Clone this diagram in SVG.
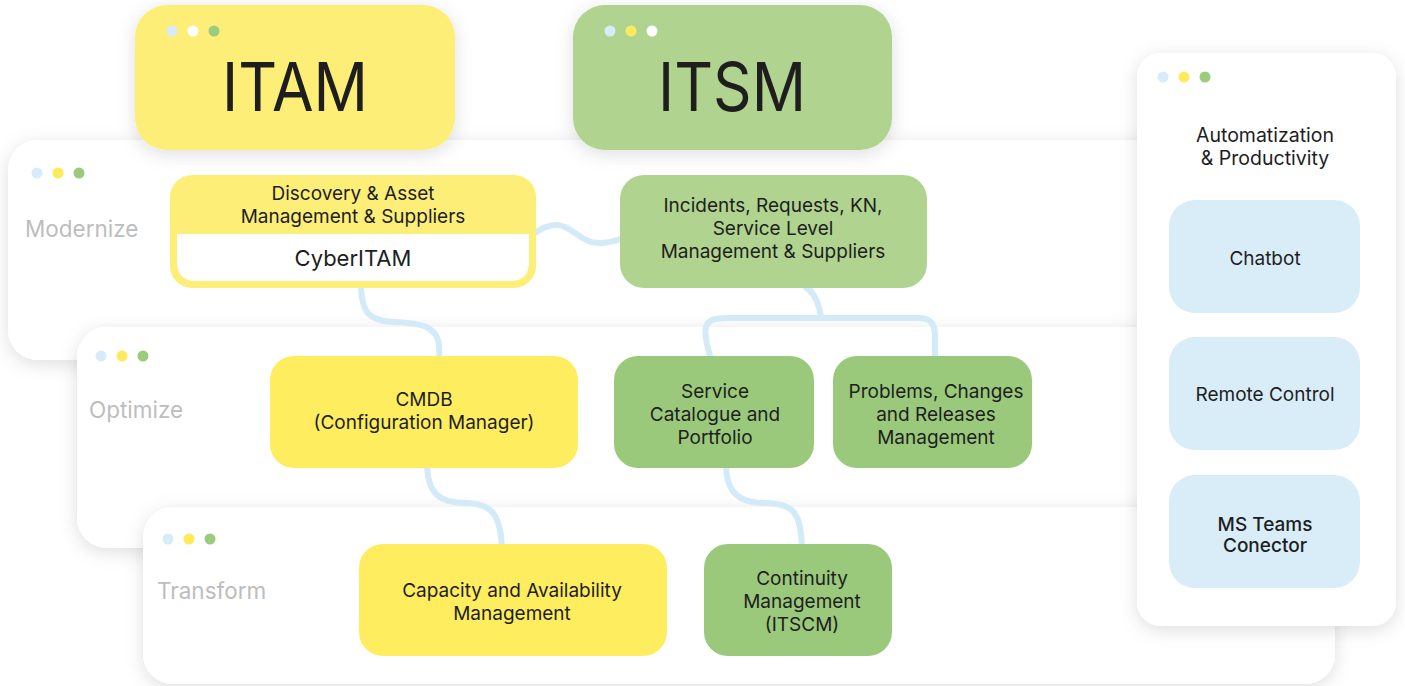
<svg xmlns="http://www.w3.org/2000/svg" width="1405" height="686" viewBox="0 0 1405 686">
  <style>
    .panel { fill: #ffffff; filter: url(#shadow); }
    .stage { font-family: Inter, "Open Sans", sans-serif; font-size: 22.5px; fill: #bdbdbd; }
    .txt { font-family: Inter, "Open Sans", sans-serif; font-size: 19px; fill: #1e1e1e; text-anchor: middle; }
    .big { font-family: Inter, "Open Sans", sans-serif; font-size: 68px; fill: #1e1e1e; text-anchor: middle; }
    .yl { fill: #feed5f; }
    .yl2 { fill: #fdee78; }
    .gr { fill: #9bc97b; }
    .gr2 { fill: #b0d48f; }
    .bl { fill: #d9edf9; }
    .dot-b { fill: #d6ecf9; }
    .dot-y { fill: #fdeb5b; }
    .dot-g { fill: #9bcb7c; }
    .dot-w { fill: #ffffff; }
    .link { fill: none; stroke: #d3eaf8; stroke-width: 6; stroke-linecap: round; stroke-linejoin: round; }
  </style>
  <defs>
    <filter id="shadow" x="-10%" y="-20%" width="120%" height="150%">
      <feDropShadow dx="0" dy="4" stdDeviation="9" flood-color="#000000" flood-opacity="0.13"/>
    </filter>
  </defs>

  <rect width="1405" height="686" fill="#ffffff"/>

  <!-- Stage panels -->
  <g id="panel-modernize">
    <rect class="panel" x="8" y="140" width="1200" height="220" rx="30"/>
    <circle class="dot-b" cx="37" cy="173" r="5.5"/>
    <circle class="dot-y" cx="58" cy="173" r="5.5"/>
    <circle class="dot-g" cx="79" cy="173" r="5.5"/>
    <text class="stage" x="25" y="237">Modernize</text>
  </g>

  <g id="panel-optimize">
    <rect class="panel" x="77" y="327" width="1130" height="221" rx="30"/>
    <circle class="dot-b" cx="101" cy="356" r="5.5"/>
    <circle class="dot-y" cx="122" cy="356" r="5.5"/>
    <circle class="dot-g" cx="143" cy="356" r="5.5"/>
    <text class="stage" x="89" y="418">Optimize</text>
  </g>

  <g id="panel-transform">
    <rect class="panel" x="143" y="507" width="1192" height="177" rx="30"/>
    <circle class="dot-b" cx="168" cy="539" r="5.5"/>
    <circle class="dot-y" cx="189" cy="539" r="5.5"/>
    <circle class="dot-g" cx="210" cy="539" r="5.5"/>
    <text class="stage" x="157" y="599">Transform</text>
  </g>

  <!-- Header tabs -->
  <g id="tab-itam">
    <rect class="yl2" x="135" y="5" width="320" height="145" rx="32" filter="url(#shadow)"/>
    <circle class="dot-b" cx="172" cy="31" r="5.5"/>
    <circle class="dot-w" cx="193" cy="31" r="5.5"/>
    <circle class="dot-g" cx="214" cy="31" r="5.5"/>
    <text class="big" x="295" y="111" textLength="146" lengthAdjust="spacingAndGlyphs">ITAM</text>
  </g>

  <g id="tab-itsm">
    <rect class="gr2" x="573" y="5" width="319" height="145" rx="32" filter="url(#shadow)"/>
    <circle class="dot-b" cx="610" cy="31" r="5.5"/>
    <circle class="dot-y" cx="631" cy="31" r="5.5"/>
    <circle class="dot-w" cx="652" cy="31" r="5.5"/>
    <text class="big" x="732" y="111" textLength="148" lengthAdjust="spacingAndGlyphs">ITSM</text>
  </g>

  <!-- Connectors -->
  <g id="connectors">
    <path class="link" d="M527,238 C540,229 549,224 558,225 C574,227 582,244 600,243 C612,243 620,239 628,236"/>
    <path class="link" d="M361,283 C361,312 368,321 395,322 C420,323 437,326 439,345 L440,372"/>
    <path class="link" d="M427,462 C427,492 438,503 465,503 C492,503 501,515 502,550"/>
    <path class="link" d="M773,281 C805,278 818,292 821,318"/>
    <path class="link" d="M712,362 C707,347 704,335 706,327 C708,320 714,318 728,318 L918,318 C930,318 935,323 935,336 L935,359"/>
    <path class="link" d="M726,463 C726,492 738,503 765,503 C795,503 802,515 802,552"/>
  </g>

  <!-- Modernize nodes -->
  <g id="node-discovery">
    <rect class="yl2" x="170" y="175" width="366" height="113" rx="22"/>
    <path fill="#ffffff" d="M177,234 H529 V262 Q529,281 510,281 H196 Q177,281 177,262 Z"/>
    <text class="txt" x="353" y="200">Discovery &amp; Asset</text>
    <text class="txt" x="353" y="223">Management &amp; Suppliers</text>
    <text class="txt" x="353" y="266" style="font-size:22px">CyberITAM</text>
  </g>

  <g id="node-incidents">
    <rect class="gr2" x="620" y="175" width="307" height="113" rx="24"/>
    <text class="txt" x="773" y="212">Incidents, Requests, KN,</text>
    <text class="txt" x="773" y="235">Service Level</text>
    <text class="txt" x="773" y="258">Management &amp; Suppliers</text>
  </g>

  <!-- Optimize nodes -->
  <g id="node-cmdb">
    <rect class="yl" x="270" y="356" width="308" height="112" rx="24"/>
    <text class="txt" x="424" y="406">CMDB</text>
    <text class="txt" x="424" y="429">(Configuration Manager)</text>
  </g>

  <g id="node-service-catalogue">
    <rect class="gr" x="614" y="356" width="200" height="112" rx="24"/>
    <text class="txt" x="715" y="398">Service</text>
    <text class="txt" x="715" y="421">Catalogue and</text>
    <text class="txt" x="715" y="444">Portfolio</text>
  </g>

  <g id="node-problems">
    <rect class="gr" x="833" y="356" width="199" height="112" rx="24"/>
    <text class="txt" x="936" y="398">Problems, Changes</text>
    <text class="txt" x="936" y="421">and Releases</text>
    <text class="txt" x="936" y="444">Management</text>
  </g>

  <!-- Transform nodes -->
  <g id="node-capacity">
    <rect class="yl" x="359" y="544" width="308" height="112" rx="24"/>
    <text class="txt" x="512" y="597">Capacity and Availability</text>
    <text class="txt" x="512" y="620">Management</text>
  </g>

  <g id="node-continuity">
    <rect class="gr" x="704" y="544" width="188" height="112" rx="24"/>
    <text class="txt" x="802" y="585">Continuity</text>
    <text class="txt" x="802" y="608">Management</text>
    <text class="txt" x="802" y="631">(ITSCM)</text>
  </g>

  <!-- Automation side panel -->
  <g id="panel-automation">
    <rect class="panel" x="1137" y="53" width="259" height="573" rx="24"/>
    <circle class="dot-b" cx="1163" cy="77" r="5.5"/>
    <circle class="dot-y" cx="1184" cy="77" r="5.5"/>
    <circle class="dot-g" cx="1205" cy="77" r="5.5"/>
    <text class="txt" x="1265" y="142" style="font-size:19.5px">Automatization</text>
    <text class="txt" x="1265" y="165" style="font-size:19.5px">&amp; Productivity</text>
  </g>

  <g id="node-chatbot">
    <rect class="bl" x="1169" y="200" width="191" height="113" rx="26"/>
    <text class="txt" x="1265" y="265">Chatbot</text>
  </g>

  <g id="node-remote-control">
    <rect class="bl" x="1169" y="337" width="191" height="113" rx="26"/>
    <text class="txt" x="1265" y="401">Remote Control</text>
  </g>

  <g id="node-ms-teams">
    <rect class="bl" x="1169" y="475" width="191" height="113" rx="26"/>
    <text class="txt" x="1265" y="531" style="font-weight:500">MS Teams</text>
    <text class="txt" x="1265" y="552" style="font-weight:500">Conector</text>
  </g>
</svg>
